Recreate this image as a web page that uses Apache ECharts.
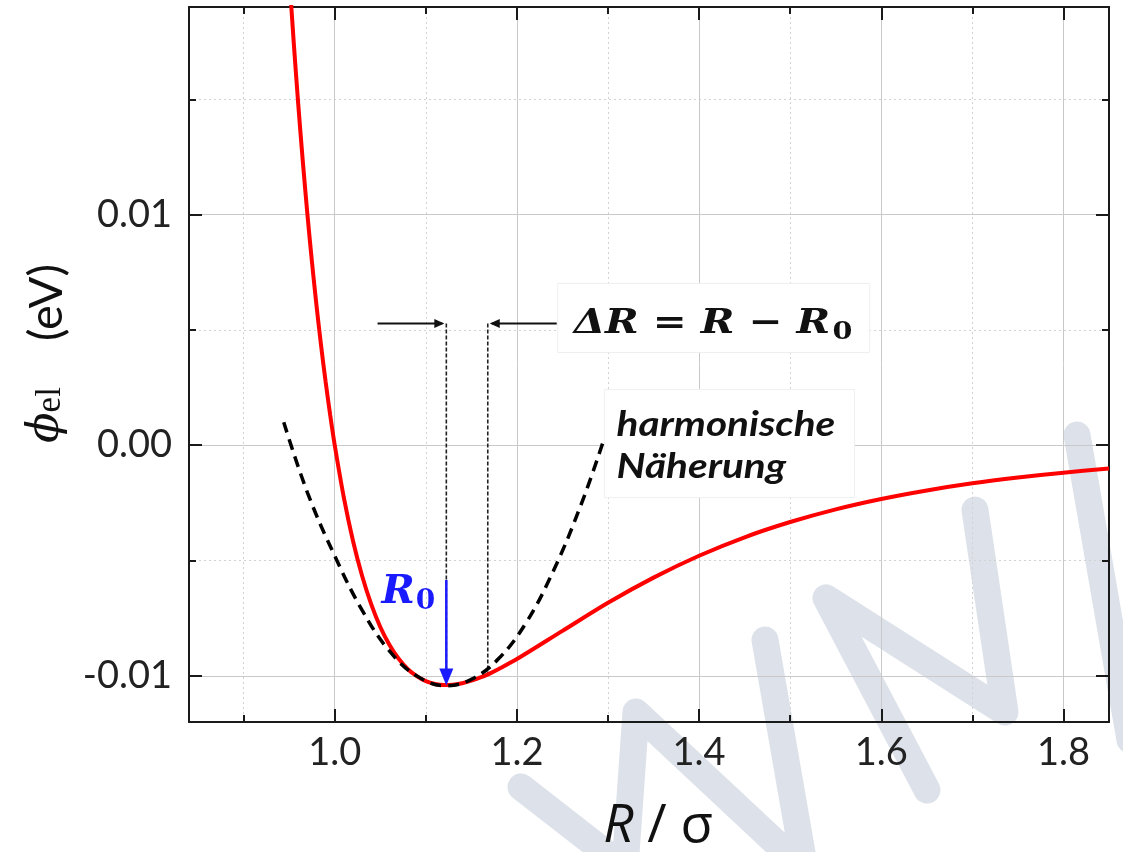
<!DOCTYPE html>
<html><head><meta charset="utf-8">
<script src="https://cdn.jsdelivr.net/npm/echarts@6/dist/echarts.min.js"></script>
<style>html,body{margin:0;padding:0;background:#fff}#c{width:1123px;height:852px}</style>
</head><body><div id="c"></div>
<script>
// ---- data ----
const rX = [0.95,0.955,0.96,0.965,0.97,0.975,0.98,0.985,0.99,0.995,1.00,1.01,1.02,1.03,1.04,1.05,1.06,1.07,1.08,1.09,1.10,1.11,1.12,1.13,1.14,1.15,1.16,1.17,1.18,1.20,1.25,1.30,1.35,1.40,1.45,1.50,1.55,1.60,1.65,1.70,1.75,1.80,1.85];
const phiLJ = [0.0204,0.01745,0.01475,0.01228,0.01001,0.00794,0.00605,0.00432,0.00275,0.00131,0,-0.00227,-0.00414,-0.00566,-0.00689,-0.00788,-0.00865,-0.00925,-0.00970,-0.01001,-0.01023,-0.01035,-0.01040,-0.01038,-0.01032,-0.01021,-0.01007,-0.00990,-0.00970,-0.00927,-0.00805,-0.00683,-0.00574,-0.00479,-0.00399,-0.00333,-0.00278,-0.00233,-0.00196,-0.00165,-0.00140,-0.00119,-0.00101];
const hX = [0.944,0.970,1.000,1.030,1.060,1.090,1.122,1.150,1.180,1.210,1.240,1.270,1.294];
const phiHarm = [0.00100,-0.00205,-0.00480,-0.00715,-0.00892,-0.01000,-0.01043,-0.01015,-0.00925,-0.00770,-0.00545,-0.00262,0.00007];
const xMajor = [1.0,1.2,1.4,1.6,1.8];
const xMinor = [0.9,1.1,1.3,1.5,1.7];
const yMajor = [-0.01,0,0.01];
const yMinor = [-0.005,0.005,0.015];
const R0 = 1.1225, PHI_MIN = -0.01042;       // minimum
const R1 = 1.168, PHI_R1 = -0.00990;         // R = R0 + ΔR
const DOT_TOP = 0.00528;                     // top of dotted guides
const ARROW_L = 1.047, ARROW_R = 1.2437;     // tails of the ΔR arrows
const BLUE_TOP = -0.00584;                   // top of the blue R0 arrow

// ---- chart ----
const AX = '#1a1a1a';
const X_MIN = 0.84, X_MAX = 1.85, Y_MIN = -0.012, Y_MAX = 0.019;
const chart = echarts.init(document.getElementById('c'), null, {renderer: 'canvas'});

function xAxisDef(pos, ticks, len, withLine, withLabel, split) {
  return {
    type: 'value', position: pos, min: X_MIN, max: X_MAX,
    axisLine: {show: withLine, onZero: false, lineStyle: {color: AX, width: 2}},
    axisTick: {show: true, inside: true, length: len, customValues: ticks, lineStyle: {color: AX, width: 2}},
    axisLabel: withLabel ? {show: true, customValues: ticks, formatter: v => v.toFixed(1),
      fontFamily: 'Lato', fontSize: 38, color: '#222', margin: 12} : {show: false},
    splitLine: split
  };
}
function yAxisDef(pos, ticks, len, withLine, withLabel, split) {
  return {
    type: 'value', position: pos, min: Y_MIN, max: Y_MAX,
    axisLine: {show: withLine, onZero: false, lineStyle: {color: AX, width: 2}},
    axisTick: {show: true, inside: true, length: len, customValues: ticks, lineStyle: {color: AX, width: 2}},
    axisLabel: withLabel ? {show: true, customValues: ticks,
      formatter: v => (Math.abs(v) < 1e-9 ? 0 : v).toFixed(2),
      fontFamily: 'Lato', fontSize: 38, color: '#222', margin: 17} : {show: false},
    splitLine: split
  };
}
const majorSplit = {show: true, lineStyle: {color: '#c9c9c9', width: 1}};
const minorSplit = {show: true, lineStyle: {color: '#d2d2d2', width: 1, type: [2, 3]}};
const noSplit = {show: false};

const xa0 = xAxisDef('bottom', xMajor, 13, true, true, majorSplit);
xa0.name = '{i|R}{n| / σ}';
xa0.nameLocation = 'middle';
xa0.nameGap = 78;
xa0.nameTextStyle = {padding: [0, 0, 0, 18], rich: {
  i: {fontFamily: 'Open Sans', fontStyle: 'italic', fontSize: 53, color: '#111'},
  n: {fontFamily: 'Open Sans', fontSize: 53, color: '#111'}
}};
const ya0 = yAxisDef('left', yMajor, 13, true, true, majorSplit);
ya0.name = '{phi|ϕ}{sub|el}{u|  (eV)}';
ya0.nameLocation = 'middle';
ya0.nameRotate = 90;
ya0.nameGap = 119;
ya0.nameTextStyle = {padding: [0, 0, 0, 22], rich: {
  phi: {fontFamily: 'DejaVu Serif', fontStyle: 'italic', fontSize: 45, color: '#111'},
  sub: {fontFamily: 'Liberation Serif', fontSize: 35, color: '#111', padding: [8, 0, 0, 0]},
  u: {fontFamily: 'Lato', fontSize: 47, color: '#111', padding: [0, 0, 0, 22]}
}};

const option = {
  animation: false,
  backgroundColor: '#ffffff',
  grid: {left: 189, right: 14, top: 7, bottom: 130, containLabel: false, outerBoundsMode: 'none'},
  xAxis: [
    xa0,
    xAxisDef('bottom', xMinor, 7, false, false, minorSplit),
    xAxisDef('top', xMajor, 13, true, false, noSplit),
    xAxisDef('top', xMinor, 7, false, false, noSplit)
  ],
  yAxis: [
    ya0,
    yAxisDef('left', yMinor, 7, false, false, minorSplit),
    yAxisDef('right', yMajor, 13, true, false, noSplit),
    yAxisDef('right', yMinor, 7, false, false, noSplit)
  ],
  series: [
    {type: 'line', name: 'Lennard-Jones-Potential', xAxisIndex: 0, yAxisIndex: 0,
     data: rX.map((x, i) => [x, phiLJ[i]]), showSymbol: false, smooth: 0.3,
     lineStyle: {color: '#ff0000', width: 4}, z: 3},
    {type: 'line', name: 'harmonische Näherung', xAxisIndex: 0, yAxisIndex: 0,
     data: hX.map((x, i) => [x, phiHarm[i]]), showSymbol: false, smooth: 0.4,
     lineStyle: {color: '#000000', width: 3.5, type: [11, 7]}, z: 4}
  ]
};
chart.setOption(option);

// ---- annotations anchored in data coordinates ----
const P = (x, y) => chart.convertToPixel({seriesIndex: 0}, [x, y]);
function head(tip, dx, dy, len, hw, color, z) {
  const bx = tip[0] - dx * len, by = tip[1] - dy * len;
  return {type: 'polygon', z: z, shape: {points: [[tip[0], tip[1]], [bx - dy * hw, by + dx * hw], [bx + dy * hw, by - dx * hw]]},
          style: {fill: color}};
}
const g = [];
// watermark (decoration, pixel space)
const wm = {stroke: '#dde2ea', lineWidth: 27, lineCap: 'round', lineJoin: 'round', fill: null};
g.push({type: 'polyline', z: -1, silent: true, shape: {points: [[521,787],[625,868],[636,712],[805,870],[765,640]]}, style: wm});
g.push({type: 'polyline', z: -1, silent: true, shape: {points: [[927,790],[826,598],[1005,712],[975,510]]}, style: wm});
g.push({type: 'polyline', z: -1, silent: true, shape: {points: [[1077,435],[1130,740]]}, style: wm});

const dot = {stroke: '#222', lineWidth: 1.6, lineDash: [4, 2]};
const a = P(R0, DOT_TOP), b = P(R0, PHI_MIN), c = P(R1, DOT_TOP), d = P(R1, PHI_R1);
g.push({type: 'line', z: 1, shape: {x1: a[0], y1: a[1], x2: b[0], y2: b[1]}, style: dot});
g.push({type: 'line', z: 1, shape: {x1: c[0], y1: c[1], x2: d[0], y2: d[1]}, style: dot});
// ΔR arrows
const la = P(ARROW_L, DOT_TOP), ra = P(ARROW_R, DOT_TOP);
g.push({type: 'line', z: 5, shape: {x1: la[0], y1: la[1], x2: a[0] - 4, y2: a[1]}, style: {stroke: '#111', lineWidth: 2}});
g.push(head([a[0] - 2, a[1]], 1, 0, 10, 4.5, '#111', 5));
g.push({type: 'line', z: 5, shape: {x1: ra[0], y1: ra[1], x2: c[0] + 4, y2: c[1]}, style: {stroke: '#111', lineWidth: 2}});
g.push(head([c[0] + 2, c[1]], -1, 0, 10, 4.5, '#111', 5));
// ΔR label box
g.push({type: 'rect', z: 1, shape: {x: ra[0] + 1, y: ra[1] - 40, width: 312, height: 69}, style: {fill: '#fff', stroke: '#efefef', lineWidth: 1}});
g.push({type: 'text', z: 6, x: ra[0] + 17, y: ra[1] + 1, scaleX: 1.19, style: {
  text: '{a|ΔR = R − R}{s|0}', align: 'left', verticalAlign: 'middle',
  rich: {a: {fontFamily: 'DejaVu Serif', fontWeight: 'bold', fontStyle: 'italic', fontSize: 34, fill: '#111'},
         s: {fontFamily: 'DejaVu Serif', fontWeight: 'bold', fontSize: 24, fill: '#111', padding: [16, 0, 0, 2]}}
}});
// harmonic label
const he = P(hX[hX.length - 1], phiHarm[phiHarm.length - 1]);
g.push({type: 'rect', z: 1, shape: {x: he[0] + 2, y: he[1] - 54, width: 250, height: 108}, style: {fill: '#fff', stroke: '#f0f0f0', lineWidth: 1}});
g.push({type: 'text', z: 6, x: he[0] + 14, y: he[1] + 2, scaleX: 1.19, style: {
  text: 'harmonische\nNäherung', align: 'left', verticalAlign: 'middle',
  fontFamily: 'Lato', fontWeight: 'bold', fontStyle: 'italic', fontSize: 34, lineHeight: 42, fill: '#111'
}});
// blue R0 arrow + label
const bt = P(R0, BLUE_TOP);
g.push({type: 'line', z: 7, shape: {x1: bt[0], y1: bt[1], x2: b[0], y2: b[1] - 12}, style: {stroke: '#1a1aff', lineWidth: 2.5}});
g.push(head([b[0], b[1]], 0, 1, 17, 7, '#1a1aff', 7));
g.push({type: 'text', z: 7, x: bt[0] - 11, y: bt[1] + 13, style: {
  text: '{a|R}{s|0}', align: 'right', verticalAlign: 'middle',
  rich: {a: {fontFamily: 'DejaVu Serif', fontWeight: 'bold', fontStyle: 'italic', fontSize: 40, fill: '#1a1aff'},
         s: {fontFamily: 'DejaVu Serif', fontWeight: 'bold', fontSize: 28, fill: '#1a1aff', padding: [18, 0, 0, 1]}}
}});
chart.setOption({graphic: g});
</script>
</body></html>
